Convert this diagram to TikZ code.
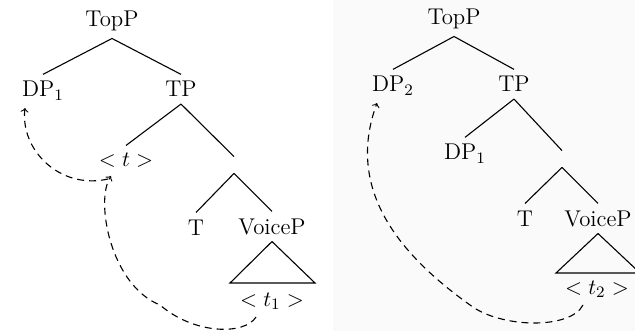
\documentclass[tikz,border=0pt]{standalone}
\usetikzlibrary{calc}
\definecolor{panelgray}{RGB}{250,250,250}
\begin{document}
\begin{tikzpicture}[x=0.5pt,y=-0.5pt,
  lab/.style={anchor=base, inner sep=3.33pt, font=\fontsize{11.4}{13}\selectfont},
  gap/.style={inner sep=0pt, minimum height=8pt, minimum width=0pt},
  branch/.style={line width=0.55pt},
  mv/.style={dash pattern=on 3.5pt off 2.5pt, ->, >=to, line width=0.55pt}]
\useasboundingbox (0,0) rectangle (635,331);
\fill[panelgray] (333,0) rectangle (635,331);

% ---------- left tree ----------
\node[lab] (topL) at (112,27) {TopP};
\node[lab] (dpL) at (43,97) {DP$_1$};
\node[lab] (tpL) at (181,97) {TP};
\node[lab] (tL) at (126,166) {$<t>$};
\node[gap] (eL) at (234,165) {};
\node[lab] (TL) at (196,235) {T};
\node[lab] (vpL) at (272,234) {VoiceP};
\node[lab] (t1L) at (272,306) {$<t_1>$};
\coordinate (rlL) at (230,283);
\coordinate (rrL) at (315,283);

\draw[branch] (topL.south) -- (dpL.north);
\draw[branch] (topL.south) -- (tpL.north);
\draw[branch] (tpL.south) -- (tL.north);
\draw[branch] (tpL.south) -- (eL.north);
\draw[branch] (eL.south) -- (TL.north);
\draw[branch] (eL.south) -- (vpL.north);
\draw[branch] (vpL.south) -- (rlL) -- (rrL) -- cycle;

\coordinate (aS) at (256,317);
\coordinate (aE) at (111,176);
\coordinate (bS) at (108,179);
\coordinate (bE) at (25,108);
\draw[mv] (aS) .. controls (245,335) and (195,335) .. (160,305)
               .. controls (110,285) and (95,200) .. (aE);
\draw[mv] (bS) .. controls (60,190) and (20,150) .. (bE);

% ---------- right tree ----------
\node[lab] (topR) at (454,25) {TopP};
\node[lab] (dpR) at (393,92) {DP$_2$};
\node[lab] (tpR) at (514,92) {TP};
\node[lab] (dp1R) at (465,160) {DP$_1$};
\node[gap] (eR) at (562,159) {};
\node[lab] (TR) at (525,226) {T};
\node[lab] (vpR) at (598,226) {VoiceP};
\node[lab] (t2R) at (597,294) {$<t_2>$};
\coordinate (rlR) at (556,273);
\coordinate (rrR) at (640,273);

\draw[branch] (topR.south) -- (dpR.north);
\draw[branch] (topR.south) -- (tpR.north);
\draw[branch] (tpR.south) -- (dp1R.north);
\draw[branch] (tpR.south) -- (eR.north);
\draw[branch] (eR.south) -- (TR.north);
\draw[branch] (eR.south) -- (vpR.north);
\draw[branch] (vpR.south) -- (rlR) -- (rrR) -- cycle;

\coordinate (cS) at (583,305);
\coordinate (cE) at (377,103);
\draw[mv] (cS) .. controls (570,330) and (500,328) .. (470,305)
               .. controls (400,255) and (345,190) .. (cE);
\end{tikzpicture}
\end{document}
